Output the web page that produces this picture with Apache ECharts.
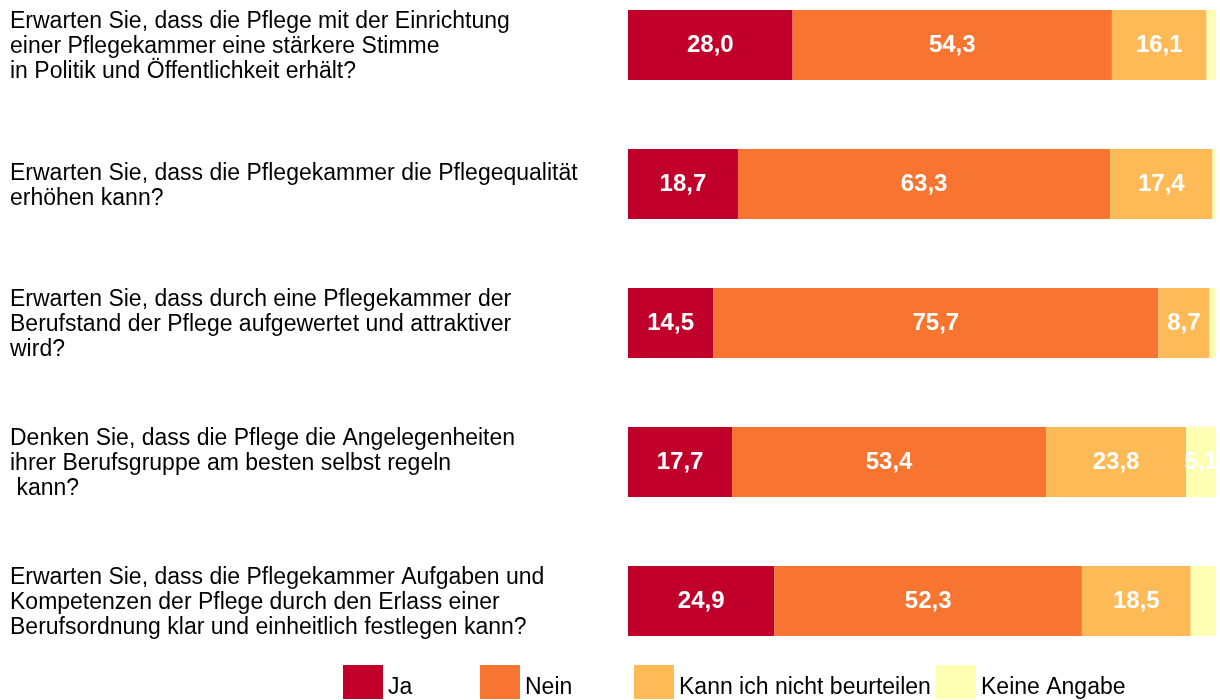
<!DOCTYPE html>
<html>
<head>
<meta charset="utf-8">
<script src="https://cdn.jsdelivr.net/npm/echarts@6/dist/echarts.min.js"></script>
<style>
  html, body { margin: 0; padding: 0; background: #fff; }
  #chart { width: 1220px; height: 700px; }
</style>
</head>
<body>
<div id="chart"></div>
<script>
// Fragen (von oben nach unten)
var fragen = [
  'Erwarten Sie, dass die Pflege mit der Einrichtung\neiner Pflegekammer eine stärkere Stimme\nin Politik und Öffentlichkeit erhält?',
  'Erwarten Sie, dass die Pflegekammer die Pflegequalität\nerhöhen kann?',
  'Erwarten Sie, dass durch eine Pflegekammer der\nBerufstand der Pflege aufgewertet und attraktiver\nwird?',
  'Denken Sie, dass die Pflege die Angelegenheiten\nihrer Berufsgruppe am besten selbst regeln\n kann?',
  'Erwarten Sie, dass die Pflegekammer Aufgaben und\nKompetenzen der Pflege durch den Erlass einer\nBerufsordnung klar und einheitlich festlegen kann?'
];

// Antworten in Prozent
var ja = [28.0, 18.7, 14.5, 17.7, 24.9];
var nein = [54.3, 63.3, 75.7, 53.4, 52.3];
var kannNicht = [16.1, 17.4, 8.7, 23.8, 18.5];
var keineAngabe = [1.6, 0.6, 1.1, 5.1, 4.3];

var reihen = ['Ja', 'Nein', 'Kann ich nicht beurteilen', 'Keine Angabe'];
var farben = ['#C0002A', '#F87431', '#FDBA57', '#FFFFB4'];
var werte = [ja, nein, kannNicht, keineAngabe];

var schrift = '"Liberation Sans", Arial, sans-serif';

var myChart = echarts.init(document.getElementById('chart'), null, { renderer: 'canvas' });

function zahl(p) {
  if (p.value < 5) return '';
  return p.value.toFixed(1).replace('.', ',');
}

var series = reihen.map(function (name, i) {
  return {
    name: name,
    type: 'bar',
    stack: 'gesamt',
    barWidth: 70,
    data: werte[i],
    itemStyle: { color: farben[i] },
    label: {
      show: true,
      position: 'inside',
      formatter: zahl,
      color: '#fff',
      fontFamily: schrift,
      fontWeight: 'bold',
      fontSize: 24
    }
  };
});

// jede Legende einzeln platziert, Text etwas tiefer als die Mitte des Kästchens
var legendLeft = [343, 480, 634, 936];
var legends = reihen.map(function (name, i) {
  return {
    data: [name],
    left: legendLeft[i],
    top: 665,
    padding: 0,
    itemWidth: 40,
    itemHeight: 34,
    icon: 'rect',
    formatter: '{t|{name}}',
    textStyle: {
      fontFamily: schrift,
      fontSize: 23,
      color: '#000',
      rich: {
        t: {
          fontFamily: schrift,
          fontSize: 23,
          color: '#000',
          padding: [12, 0, 0, 0]
        }
      }
    }
  };
});

myChart.setOption({
  animation: false,
  backgroundColor: '#fff',
  legend: legends,
  grid: { left: 628, width: 588, top: 45, height: 556, containLabel: false },
  xAxis: {
    type: 'value',
    min: 0,
    max: 100,
    show: false
  },
  yAxis: {
    type: 'category',
    data: fragen,
    inverse: true,
    boundaryGap: false,
    axisLine: { show: false },
    axisTick: { show: false },
    splitLine: { show: false },
    axisLabel: {
      align: 'left',
      margin: 618,
      color: '#000',
      fontFamily: schrift,
      fontSize: 23,
      lineHeight: 25,
      formatter: function (v) { return '{s|}\n' + v; },
      rich: { s: { height: 4, lineHeight: 4, fontSize: 4 } }
    }
  },
  series: series
});
</script>
</body>
</html>
